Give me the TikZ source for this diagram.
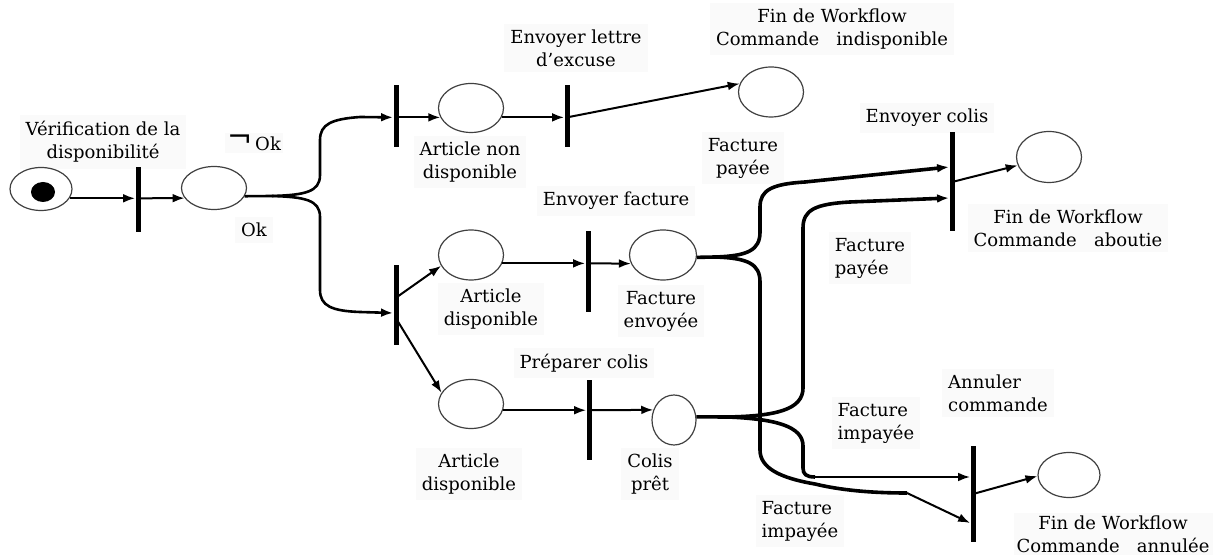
\documentclass[tikz,border=0pt]{standalone}
\usepackage{fontspec}
\setmainfont{DejaVu Serif}
\usetikzlibrary{shapes.geometric,arrows.meta,calc}
\newcommand{\labfont}{\fontsize{9}{11.5}\selectfont}
\tikzset{
  place/.style={ellipse, draw=black!75, line width=0.6pt, inner sep=0pt},
  trans/.style={rectangle, fill=black, minimum width=2.5pt, inner sep=0pt},
  lbl/.style={font=\labfont, align=center, fill=black!2, inner sep=3pt},
  arr/.style={-{Latex[length=6pt,width=4.4pt]}, line width=1pt},
  flow/.style={line width=1.3pt},
  thickflow/.style={line width=1.8pt},
}
\begin{document}
\begin{tikzpicture}[x=0.5pt, y=-0.5pt]
\useasboundingbox (0,0) rectangle (1219,560);

% labels
\node[lbl] (lVerif) at (103,142) {Vérification de la\\disponibilité};
\node[lbl, inner sep=1pt] (lNotOk) at (254,143) {{\fontsize{15}{15}\selectfont\raisebox{1.5pt}{¬}}\,Ok};
\node[lbl] (lOk) at (254,230) {Ok};
\node[lbl] (lNon) at (470,162) {Article non\\disponible};
\node[lbl] (lLettre) at (576,48) {Envoyer lettre\\d’excuse};
\node[lbl] (lEnd1) at (832,29) {Fin de Workflow\\Commande~~ indisponible};
\node[lbl] (lPay1) at (743,158) {Facture\\payée};
\node[lbl] (lEnvFact) at (616,201) {Envoyer facture};
\node[lbl] (lDisp1) at (491,309) {Article\\disponible};
\node[lbl] (lFactEnv) at (661,311) {Facture\\envoyée};
\node[lbl] (lPrep) at (584,363) {Préparer colis};
\node[lbl] (lDisp2) at (469,474) {Article\\disponible};
\node[lbl] (lColis) at (650,474) {Colis\\prêt};
\node[lbl] (lEnvColis) at (927,118) {Envoyer colis};
\node[lbl] (lEnd2) at (1068,228) {Fin de Workflow\\Commande~~ aboutie};
\node[lbl, align=left] (lPay2) at (870,258) {Facture\\payée};
\node[lbl, align=left] (lAnnul) at (998,393) {Annuler\\commande};
\node[lbl, align=left] (lImp1) at (876,423) {Facture\\impayée};
\node[lbl, align=left] (lImp2) at (800,521) {Facture\\impayée};
\node[lbl, inner sep=1.5pt] (lEnd3) at (1113,534) {Fin de Workflow\\Commande~~ annulée};

% places
\node[place, minimum width=31pt, minimum height=21.5pt] (start) at (41,189) {};
\node[ellipse, fill=black, minimum width=12pt, minimum height=10pt, inner sep=0pt] (token) at (43,192) {};
\node[place, minimum width=32.5pt, minimum height=21.5pt] (pOk) at (214,188) {};
\node[place, minimum width=32.5pt, minimum height=24.5pt] (pNon) at (471,108) {};
\node[place, minimum width=32.5pt, minimum height=25pt] (pDisp1) at (471,255) {};
\node[place, minimum width=32.5pt, minimum height=24.5pt] (pDisp2) at (471,404) {};
\node[place, minimum width=33.5pt, minimum height=25pt] (pFact) at (663,255) {};
\node[place, minimum width=22pt, minimum height=25pt] (pColis) at (674,420) {};
\node[place, minimum width=32.5pt, minimum height=25pt] (pEnd1) at (771,92) {};
\node[place, minimum width=32.5pt, minimum height=25.5pt] (pEnd2) at (1049,157) {};
\node[place, minimum width=31pt, minimum height=22.5pt] (pEnd3) at (1069,475) {};

% transitions
\node[trans, minimum height=32.5pt] (t1) at (138,199.5) {};
\node[trans, minimum height=31pt] (t2) at (396,116) {};
\node[trans, minimum height=40pt] (t3) at (396,305) {};
\node[trans, minimum height=31pt] (t4) at (567,116) {};
\node[trans, minimum height=40.5pt] (t5) at (588,272) {};
\node[trans, minimum height=40pt] (t8) at (589,420) {};
\node[trans, minimum height=49.5pt] (t6) at (952,182) {};
\node[trans, minimum height=48pt] (t7) at (973,494) {};

% start -> verification -> Ok
\draw[arr] (start.-18) -- (start.-18 -| t1.west);
\draw[arr] (start.-18 -| t1.center) -- (pOk.199);

% Ok / not Ok split
\coordinate (fOk) at (272,196);
\draw[flow] (pOk.-15) -- (fOk);
\draw[arr, flow] (fOk) .. controls (305,195) and (320,192) .. (320,175) -- (320,140)
  .. controls (320,124) and (332,119) .. (360,117) -- (pNon.197 -| t2.west);
\draw[arr, flow] (fOk) .. controls (305,197) and (320,200) .. (320,217) -- (320,290)
  .. controls (320,306) and (332,311) .. (360,312) -- ($(t3.west)+(0,8)$);

% unavailable article
\draw[arr] (pNon.197 -| t2.center) -- (pNon.197);
\draw[arr] (pNon.-17) -- (pNon.-17 -| t4.west);
\draw[arr] (pNon.-17 -| t4.center) -- (pEnd1.165);

% available article
\draw[arr] ($(t3.center)+(1,-8)$) -- (pDisp1.200);
\draw[arr] ($(t3.center)+(1,15)$) -- (pDisp2.159);
\draw[arr] (pDisp1.-15) -- (pDisp1.-15 -| t5.west);
\draw[arr] (pDisp1.-15 -| t5.center) -- (pFact.195);
\draw[arr] (pDisp2.-11) -- (pDisp2.-11 -| t8.west);
\draw[arr] (pDisp2.-11 -| t8.center) -- (pColis.154);

% invoice sent: paid / unpaid
\coordinate (fFact) at (715,257);
\coordinate (kFact) at (907,493);
\draw[thickflow] (pFact.-4) -- (fFact);
\draw[arr, thickflow] (fFact) .. controls (748,256) and (760,250) .. (760,232) -- (760,207)
  .. controls (760,190) and (772,184) .. (805,182) -- ($(t6.west)+(0,-15)$);
\draw[thickflow] (fFact) .. controls (748,258) and (760,264) .. (760,282) -- (760,450)
  .. controls (760,468) and (780,478) .. (815,484) .. controls (840,490) and (870,493) .. (kFact);
\draw[arr] (kFact) -- ($(t7.west)+(0,29)$);

% parcel ready: paid / unpaid
\coordinate (fCol) at (728,417);
\coordinate (kCol) at (815,477);
\draw[thickflow] (pColis.8) -- (fCol);
\draw[arr, thickflow] (fCol) .. controls (775,416) and (803,410) .. (803,388) -- (803,228)
  .. controls (803,210) and (815,204) .. (850,202) -- ($(t6.west)+(0,16)$);
\draw[thickflow] (fCol) .. controls (775,419) and (803,426) .. (803,446) -- (803,468)
  .. controls (803,474) and (806,477) .. (kCol);
\draw[arr] (kCol) -- ($(t7.west)+(0,-17)$);

% end of workflow
\draw[arr] (t6.center) -- (pEnd2.195);
\draw[arr] (t7.center) -- (pEnd3.182);
\end{tikzpicture}
\end{document}
